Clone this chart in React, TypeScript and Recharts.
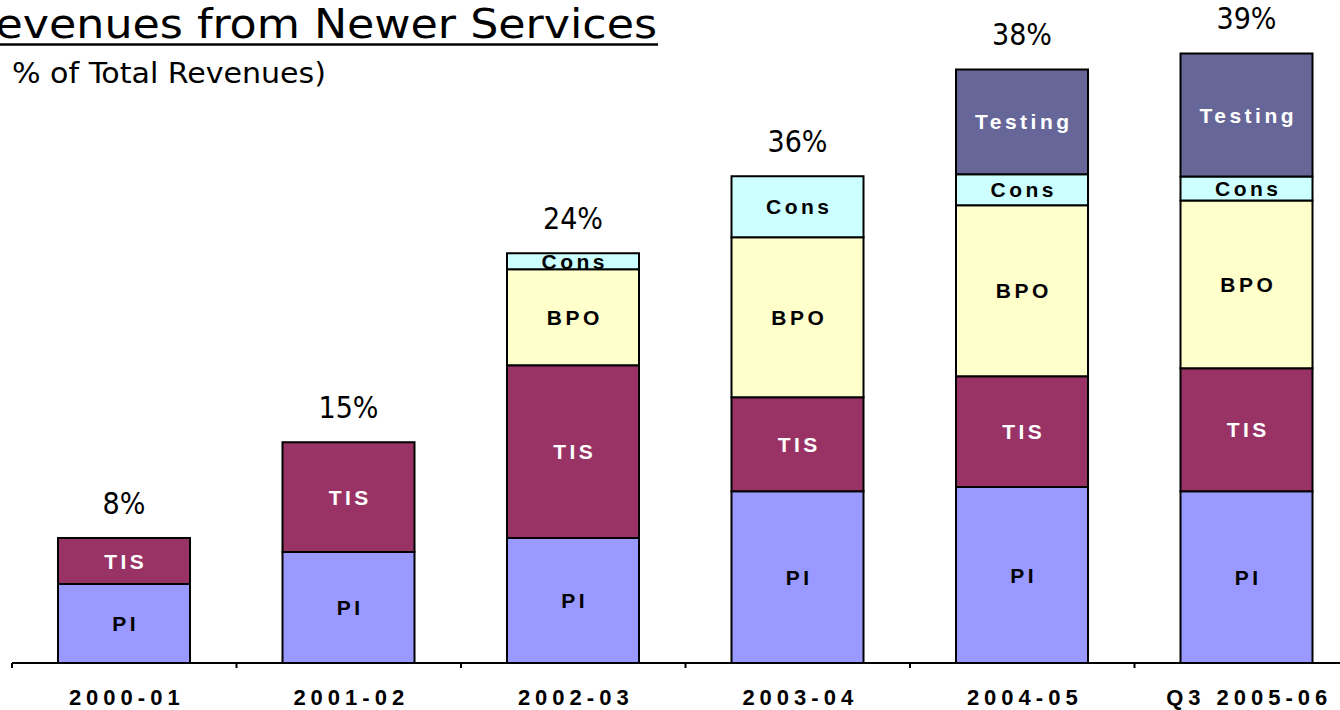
import React from 'react';
import { BarChart, Bar, XAxis, YAxis, LabelList } from 'recharts';

const categories = ['2000-01', '2001-02', '2002-03', '2003-04', '2004-05', 'Q3 2005-06'];
const piValues = [5.05, 7.09, 7.98, 10.98, 11.24, 10.98];
const tisValues = [2.94, 7.02, 11.05, 6.0, 7.09, 7.85];
const bpoValues = [0, 0, 6.13, 10.22, 10.92, 10.73];
const consValues = [0, 0, 1.02, 3.9, 1.98, 1.53];
const testingValues = [0, 0, 0, 0, 6.7, 7.85];
const totalLabels = ['8%', '15%', '24%', '36%', '38%', '39%'];

const seriesNames = ['PI', 'TIS', 'BPO', 'Cons', 'Testing'];
const seriesColors = ['#9999FF', '#993366', '#FFFFCC', '#CCFFFF', '#666699'];
const seriesTextColors = ['#000000', '#FFFFFF', '#000000', '#000000', '#FFFFFF'];
const seriesValues = [piValues, tisValues, bpoValues, consValues, testingValues];

const data = categories.map((c, i) => {
  const row: any = { category: c, idx: i };
  seriesNames.forEach((n, s) => {
    row[n] = seriesValues[s][i];
  });
  return row;
});

// index of the topmost non-empty segment in each stack
const topSeries = categories.map((_, i) => {
  let top = 0;
  seriesValues.forEach((vals, s) => {
    if (vals[i] > 0) top = s;
  });
  return top;
});

const W = 1360;
const H = 710;
const MARGIN = { top: 37, right: 1, left: 12, bottom: 0 };
const BAND = (W - MARGIN.left - MARGIN.right) / categories.length;

const getBox = (props: any) => {
  const vb = props.viewBox || {};
  return {
    x: props.x ?? vb.x,
    y: props.y ?? vb.y,
    width: props.width ?? vb.width,
    height: props.height ?? vb.height,
  };
};

const makeSegLabel = (s: number) => (props: any) => {
  const parts = String(props.value ?? '').split('|');
  if (parts.length < 2) return null;
  const idx = Number(parts[0]);
  const val = Number(parts[1]);
  if (!val) return null;
  const { x, y, width, height } = getBox(props);
  const ls = 3.5;
  const isTop = topSeries[idx] === s;
  return (
    <g>
      <text
        x={x + width / 2 + ls / 2}
        y={y + height / 2}
        dy="0.36em"
        textAnchor="middle"
        fill={seriesTextColors[s]}
        fontFamily="'Liberation Sans', Arial, sans-serif"
        fontWeight="bold"
        fontSize={21}
        letterSpacing={ls}
      >
        {seriesNames[s]}
      </text>
      {isTop ? (
        <text
          x={x + width / 2}
          y={y - 35}
          dy="0.36em"
          textAnchor="middle"
          fill="#000"
          fontFamily="'DejaVu Sans Condensed', 'DejaVu Sans', sans-serif"
          fontSize={30}
        >
          {totalLabels[idx]}
        </text>
      ) : null}
    </g>
  );
};

const CategoryTick = (props: any) => {
  const { x, y, payload } = props;
  const ls = 5;
  return (
    <g>
      <line x1={x - BAND / 2} y1={y} x2={x - BAND / 2} y2={y + 5} stroke="#000" strokeWidth={2} />
      <text
        x={x + ls / 2}
        y={y + 42}
        textAnchor="middle"
        fill="#000"
        fontFamily="'Liberation Sans', Arial, sans-serif"
        fontWeight="bold"
        fontSize={22}
        letterSpacing={ls}
      >
        {payload.value}
      </text>
    </g>
  );
};

export default function App() {
  return (
    <div
      style={{
        position: 'absolute',
        left: 0,
        top: 0,
        width: 1340,
        height: 710,
        overflow: 'hidden',
        background: '#fff',
      }}
    >
      <BarChart width={W} height={H} data={data} margin={MARGIN} barSize={132}>
        <XAxis
          dataKey="category"
          height={47}
          axisLine={{ stroke: '#000', strokeWidth: 2 }}
          tickLine={false}
          tickSize={0}
          tickMargin={0}
          interval={0}
          tick={<CategoryTick />}
        />
        <YAxis hide domain={[0, 40]} />
        {seriesNames.map((n, s) => (
          <Bar
            key={n}
            dataKey={n}
            stackId="a"
            fill={seriesColors[s]}
            stroke="#000"
            strokeWidth={2}
            isAnimationActive={false}
          >
            <LabelList
              dataKey={(row: any) => `${row.idx}|${row[n]}`}
              content={makeSegLabel(s)}
            />
          </Bar>
        ))}
      </BarChart>
      <svg
        width={1340}
        height={100}
        style={{ position: 'absolute', left: 0, top: 0, pointerEvents: 'none' }}
      >
        <text
          x={657}
          y={38}
          textAnchor="end"
          fontFamily="'DejaVu Sans Condensed', 'DejaVu Sans', sans-serif"
          fontSize={40}
          textLength={690}
          lengthAdjust="spacingAndGlyphs"
          fill="#000"
        >
          Revenues from Newer Services
        </text>
        <line x1={0} y1={44.5} x2={658} y2={44.5} stroke="#000" strokeWidth={2.5} />
        <text
          y={83}
          fontFamily="'DejaVu Sans Condensed', 'DejaVu Sans', sans-serif"
          fontSize={28}
          fill="#000"
        >
          <tspan x={-14}>(</tspan>
          <tspan x={12} textLength={314} lengthAdjust="spacingAndGlyphs">
            % of Total Revenues)
          </tspan>
        </text>
      </svg>
    </div>
  );
}
